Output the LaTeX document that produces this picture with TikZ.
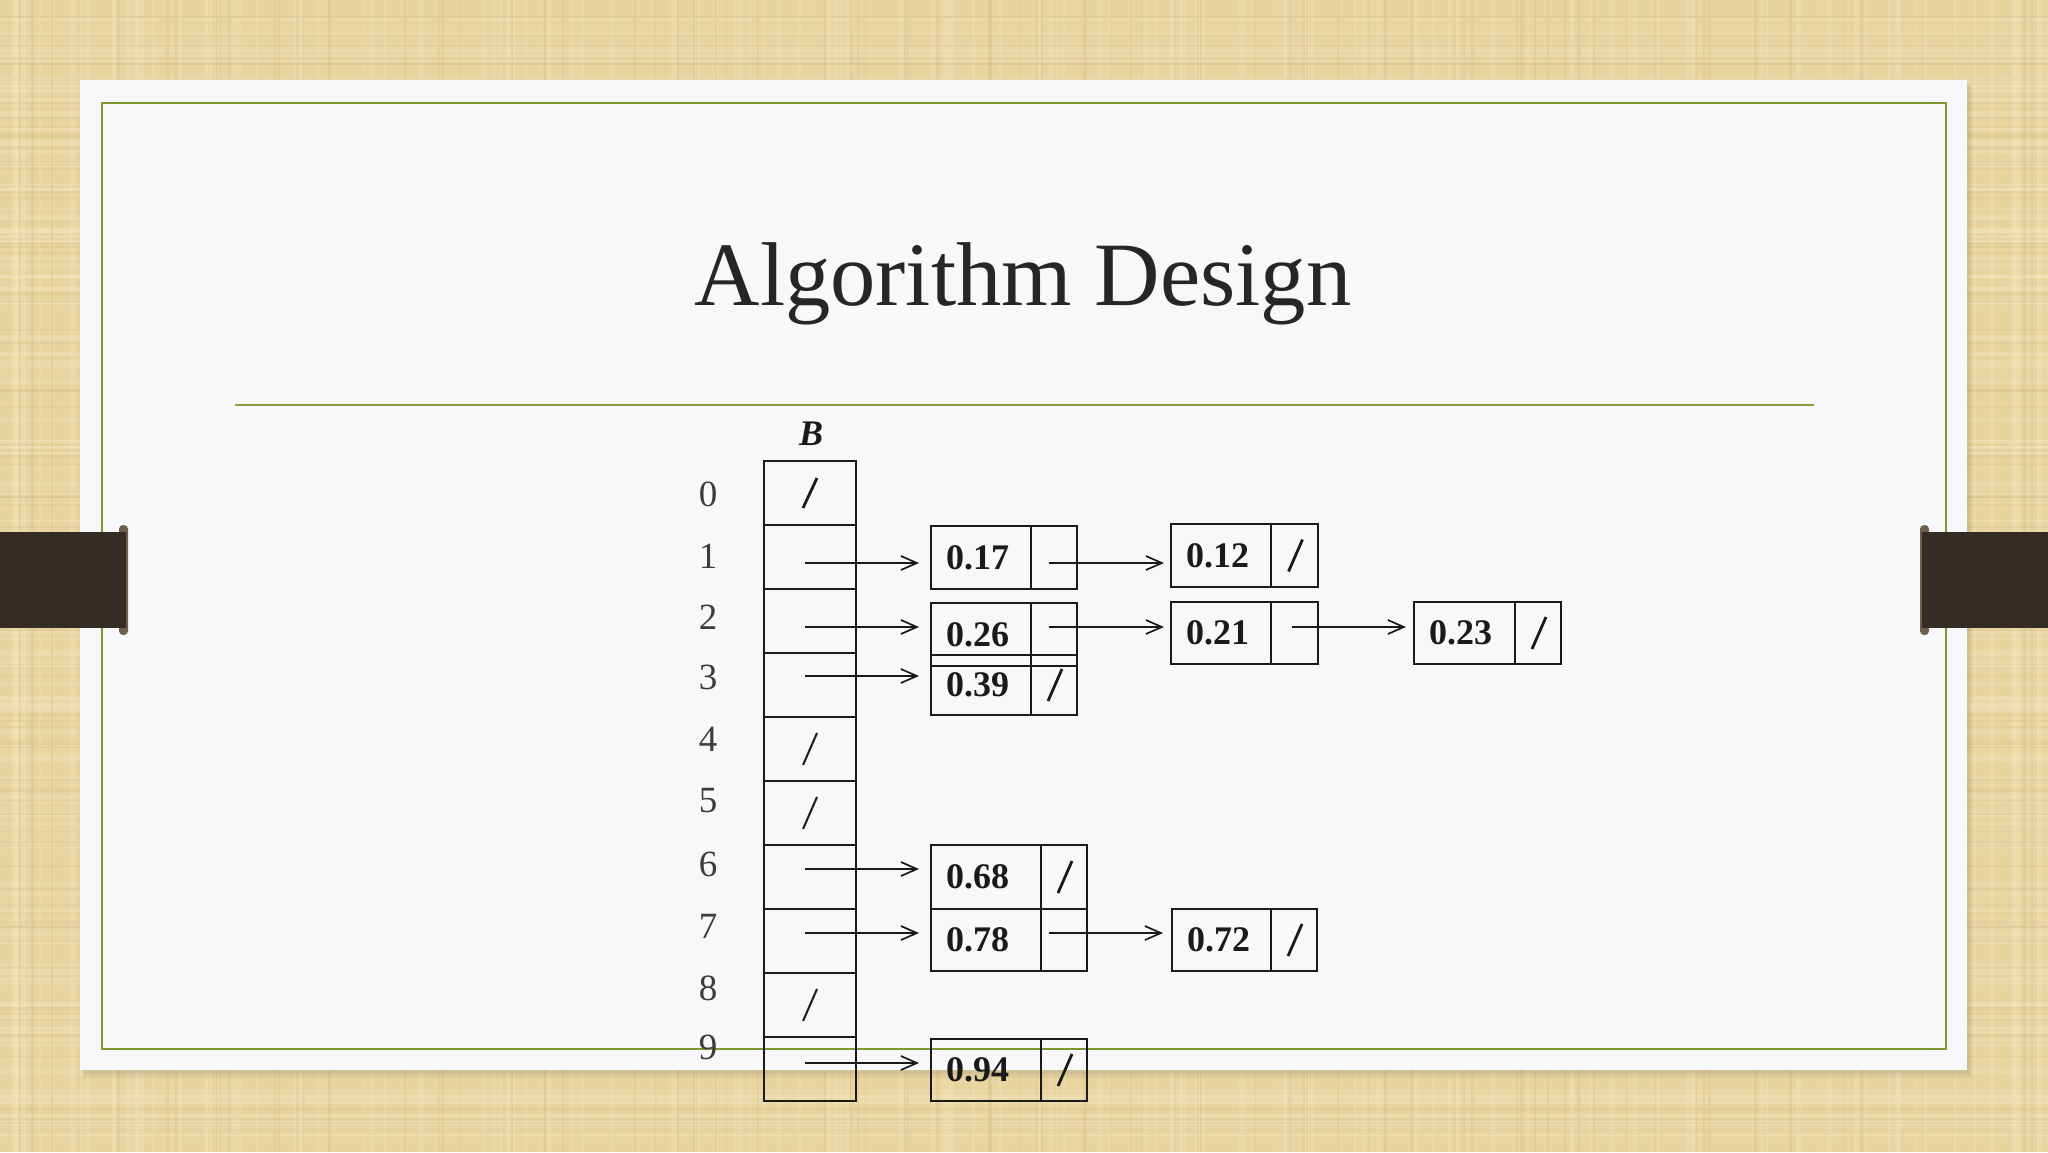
\documentclass[tikz,border=0pt]{standalone}
\usepackage{fontspec}
\setmainfont{Liberation Serif}
\usetikzlibrary{arrows.meta}
\definecolor{bgtan}{HTML}{E8D49E}
\definecolor{tanlight}{HTML}{F3E6C0}
\definecolor{tandark}{HTML}{CDB47A}
\definecolor{cardwhite}{HTML}{F8F8FA}
\definecolor{frameolive}{HTML}{7E9A2F}
\definecolor{ruleolive}{HTML}{8C9B3E}
\definecolor{tabbrown}{HTML}{352C28}
\definecolor{knobcol}{HTML}{6E624C}
\definecolor{ink}{HTML}{1A1A1A}
\definecolor{titleink}{HTML}{262626}
\begin{document}
\begin{tikzpicture}[x=0.5pt,y=-0.5pt,
  cell/.style={draw=ink, line width=1.25pt, inner sep=0pt, outer sep=0pt},
  valtext/.style={inner sep=0pt, outer sep=0pt, font=\bfseries\fontsize{18}{20}\selectfont, text=ink, text depth=0pt},
  idx/.style={inner sep=0pt, font=\fontsize{18.5}{20}\selectfont, text=ink!85},
  arr/.style={draw=ink, line width=0.85pt, -{Straight Barb[length=8pt,width=7pt]}},
  slash/.style={draw=ink, line width=1.4pt},
  thinslash/.style={draw=ink, line width=1pt}]
\useasboundingbox (0,0) rectangle (2048,1152);
% background texture
\fill[bgtan] (0,0) rectangle (2048,1152);
\pgfmathsetseed{42}
\foreach \k in {1,...,150}{
  \pgfmathsetmacro\xx{rnd*2048}\pgfmathsetmacro\ww{1+rnd*4}
  \fill[tanlight,opacity=0.3] (\xx,0) rectangle ++(\ww,1152);
  \pgfmathsetmacro\yy{rnd*1152}\pgfmathsetmacro\hh{1+rnd*4}
  \fill[tanlight,opacity=0.3] (0,\yy) rectangle ++(2048,\hh);
}
\foreach \k in {1,...,90}{
  \pgfmathsetmacro\xx{rnd*2048}\pgfmathsetmacro\ww{1+rnd*2}
  \fill[tandark,opacity=0.2] (\xx,0) rectangle ++(\ww,1152);
  \pgfmathsetmacro\yy{rnd*1152}\pgfmathsetmacro\hh{1+rnd*2}
  \fill[tandark,opacity=0.2] (0,\yy) rectangle ++(2048,\hh);
}
% card shadow and card
\fill[black,opacity=0.05] (84,86) rectangle (1972,1078);
\fill[black,opacity=0.06] (82,84) rectangle (1970,1074);
\fill[cardwhite] (80,80) rectangle (1967,1070);
\draw[frameolive, line width=1.25pt] (102,103) rectangle (1946,1049);
\draw[ruleolive, line width=1pt] (235,405) -- (1814,405);
% tabs
\fill[knobcol, rounded corners=2pt] (119,525) rectangle (128,635);
\fill[tabbrown] (0,532) rectangle (126,628);
\fill[knobcol, rounded corners=2pt] (1920,525) rectangle (1929,635);
\fill[tabbrown] (1922,532) rectangle (2048,628);
% title
\node[font=\fontsize{45.3}{55}\selectfont, text=titleink, anchor=base, inner sep=0pt] (title) at (1023,305) {Algorithm Design};
% array B
\node[font=\bfseries\itshape\fontsize{18}{20}\selectfont, text=ink, anchor=base, inner sep=0pt] (Blab) at (811,445) {B};
\foreach \i in {0,...,9}
  \node[cell, minimum width=46pt, minimum height=32pt] (B\i) at (810,{493+64*\i}) {};
\foreach \i/\yy in {0/494,1/556,2/617,3/677,4/739,5/801,6/864,7/926,8/988,9/1047}
  \node[idx] (L\i) at (708,\yy) {\i};
\draw[slash] ([xshift=-3.5pt,yshift=-7.5pt]B0.center) -- ([xshift=3.5pt,yshift=7.5pt]B0.center);
\foreach \i in {4,5,8}
  \draw[thinslash] ([xshift=-3.5pt,yshift=-8pt]B\i.center) -- ([xshift=3.5pt,yshift=8pt]B\i.center);
% list elements
\foreach \nm/\xl/\xd/\xr/\yt/\yb in {17/931/1031/1077/526/589, 26/931/1031/1077/603/666, 39/931/1031/1077/655/715, 12/1171/1271/1318/524/587, 21/1171/1271/1318/602/664, 23/1414/1515/1561/602/664, 68/931/1041/1087/845/909, 78/931/1041/1087/909/971, 72/1172/1271/1317/909/971, 94/931/1041/1087/1039/1101}{
  \node[cell, minimum width={(\xd-\xl)*0.5pt}, minimum height={(\yb-\yt)*0.5pt}] (v\nm) at ({(\xl+\xd)/2},{(\yt+\yb)/2}) {};
  \node[cell, minimum width={(\xr-\xd)*0.5pt}, minimum height={(\yb-\yt)*0.5pt}] (p\nm) at ({(\xd+\xr)/2},{(\yt+\yb)/2}) {};
  \node[valtext, anchor=west] (t\nm) at ([xshift=7.5pt]v\nm.west) {0.\nm};
}
\foreach \nm in {39,12,23,68,72,94}
  \draw[slash] ([xshift=-3pt,yshift=-8pt]p\nm.center) -- ([xshift=4pt,yshift=8pt]p\nm.center);
% pointers
\foreach \src/\ssx/\ssy/\dst/\dtx/\dty in {B1/-5/6/v17/-12/5.5, B2/-5/6/v26/-12/-7.5, B3/-5/-9/v39/-12/-9, B6/-5/-8/v68/-12/-8, B7/-5/-8/v78/-12/-7, B9/-5/-6/v94/-12/-7, p17/-5/5.5/v12/-7/7.5, p26/-5/-7.5/v21/-7/-6, p21/-2.5/-6/v23/-8/-6, p78/-15/-7/v72/-9/-7}
  \draw[arr] ([xshift={\ssx*0.5pt},yshift={-(\ssy)*0.5pt}]\src.center) -- ([xshift={\dtx*0.5pt},yshift={-(\dty)*0.5pt}]\dst.west);
\end{tikzpicture}
\end{document}
